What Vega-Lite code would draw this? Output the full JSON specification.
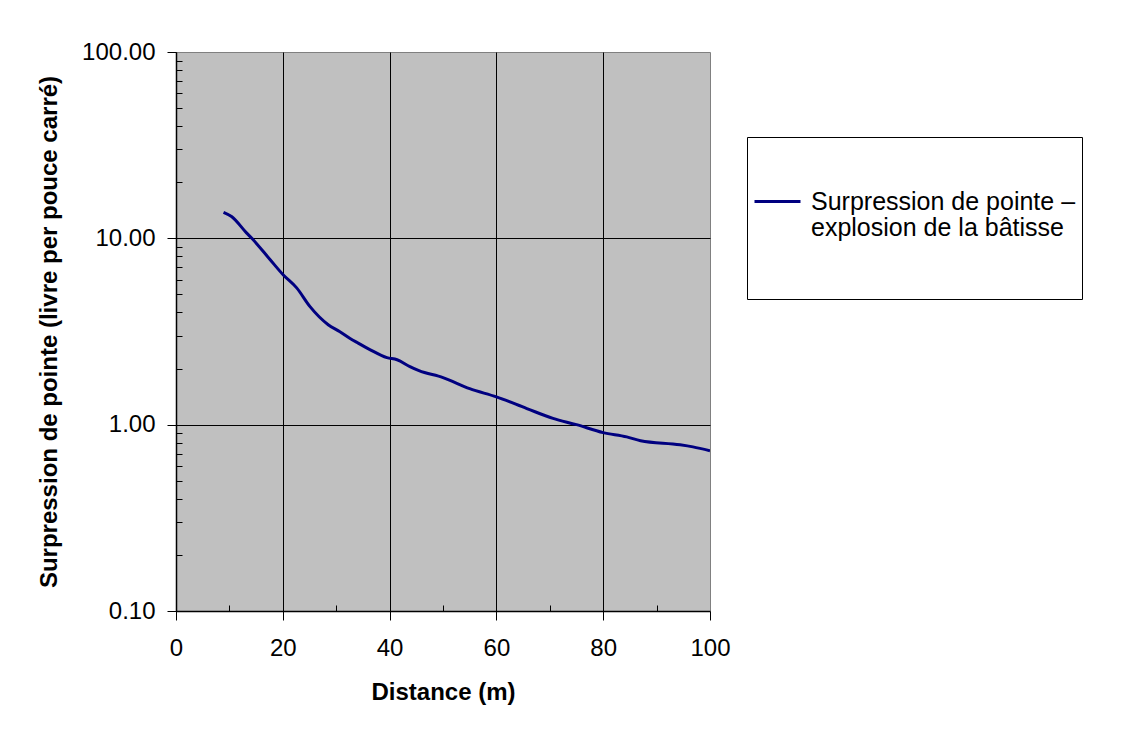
{
  "$schema": "https://vega.github.io/schema/vega-lite/v6.json",
  "width": 534,
  "height": 559,
  "autosize": {"type": "none"},
  "padding": {"left": 176, "top": 52, "right": 427, "bottom": 127},
  "background": "white",
  "config": {
    "font": "Liberation Sans",
    "view": {"fill": "#c0c0c0", "stroke": "#808080", "strokeWidth": 1},
    "axis": {
      "domainColor": "black",
      "domainWidth": 1.5,
      "tickColor": "black",
      "gridColor": "black",
      "gridWidth": 1,
      "labelColor": "black",
      "titleColor": "black",
      "labelFont": "Liberation Sans",
      "titleFont": "Liberation Sans",
      "labelFontSize": 24,
      "titleFontSize": 24,
      "titleFontWeight": "bold"
    }
  },
  "data": {
    "values": [
      {"d": 8.9, "p": 13.8, "s": "a"},
      {"d": 10.4, "p": 13.1, "s": "a"},
      {"d": 13.2, "p": 10.7, "s": "a"},
      {"d": 14.2, "p": 10.0, "s": "a"},
      {"d": 17.6, "p": 7.7, "s": "a"},
      {"d": 20.1, "p": 6.36, "s": "a"},
      {"d": 22.6, "p": 5.42, "s": "a"},
      {"d": 25.1, "p": 4.3, "s": "a"},
      {"d": 28.5, "p": 3.44, "s": "a"},
      {"d": 30.7, "p": 3.15, "s": "a"},
      {"d": 32.6, "p": 2.9, "s": "a"},
      {"d": 34.0, "p": 2.75, "s": "a"},
      {"d": 36.3, "p": 2.53, "s": "a"},
      {"d": 39.5, "p": 2.29, "s": "a"},
      {"d": 41.4, "p": 2.23, "s": "a"},
      {"d": 43.8, "p": 2.05, "s": "a"},
      {"d": 45.5, "p": 1.95, "s": "a"},
      {"d": 50.0, "p": 1.79, "s": "a"},
      {"d": 55.0, "p": 1.56, "s": "a"},
      {"d": 60.0, "p": 1.41, "s": "a"},
      {"d": 65.7, "p": 1.22, "s": "a"},
      {"d": 70.6, "p": 1.08, "s": "a"},
      {"d": 75.0, "p": 1.0, "s": "a"},
      {"d": 80.0, "p": 0.906, "s": "a"},
      {"d": 84.4, "p": 0.86, "s": "a"},
      {"d": 87.0, "p": 0.82, "s": "a"},
      {"d": 94.4, "p": 0.78, "s": "a"},
      {"d": 96.8, "p": 0.76, "s": "a"},
      {"d": 100.0, "p": 0.725, "s": "a"}
    ]
  },
  "mark": {"type": "line", "strokeWidth": 3, "interpolate": "monotone", "clip": true},
  "encoding": {
    "x": {
      "field": "d",
      "type": "quantitative",
      "scale": {"domain": [0, 100], "nice": false, "zero": false},
      "axis": {
        "title": "Distance (m)",
        "values": [0, 10, 20, 30, 40, 50, 60, 70, 80, 90, 100],
        "labelExpr": "datum.value % 20 == 0 ? datum.label : ''",
        "tickSize": {"condition": {"test": "datum.value % 20 != 0", "value": -6}, "value": 9},
        "gridOpacity": {"condition": {"test": "datum.value % 20 != 0 || datum.value == 100", "value": 0}, "value": 1},
        "labelPadding": 16,
        "titlePadding": 20,
        "labelFlush": false,
        "labelOverlap": false
      }
    },
    "y": {
      "field": "p",
      "type": "quantitative",
      "scale": {"type": "log", "domain": [0.1, 100], "nice": false},
      "axis": {
        "title": "Surpression de pointe (livre per pouce carré)",
        "values": [0.1, 0.2, 0.3, 0.4, 0.5, 0.6, 0.7, 0.8, 0.9, 1, 2, 3, 4, 5, 6, 7, 8, 9, 10, 20, 30, 40, 50, 60, 70, 80, 90, 100],
        "labelExpr": "indexof([0.1, 1, 10, 100], datum.value) >= 0 ? format(datum.value, '.2f') : ''",
        "tickSize": {"condition": {"test": "indexof([0.1, 1, 10, 100], datum.value) < 0", "value": -6}, "value": 9},
        "gridOpacity": {"condition": {"test": "indexof([1, 10], datum.value) < 0", "value": 0}, "value": 1},
        "labelPadding": 12,
        "titlePadding": 20,
        "labelFlush": false,
        "labelOverlap": false
      }
    },
    "color": {
      "field": "s",
      "type": "nominal",
      "scale": {"domain": ["a"], "range": ["#000080"]},
      "legend": {
        "title": " ",
        "titleFontSize": 10,
        "titlePadding": 24,
        "orient": "none",
        "legendX": 571,
        "legendY": 85,
        "fillColor": "white",
        "strokeColor": "#000000",
        "padding": 6,
        "symbolType": "stroke",
        "symbolSize": 2116,
        "symbolStrokeWidth": 3,
        "labelOffset": 9,
        "labelFontSize": 25,
        "labelColor": "black",
        "labelLimit": 400,
        "labelExpr": "['Surpression de pointe –', 'explosion de la bâtisse', '', '']",
        "encode": {"labels": {"update": {"lineHeight": {"value": 26}}}}
      }
    }
  }
}
